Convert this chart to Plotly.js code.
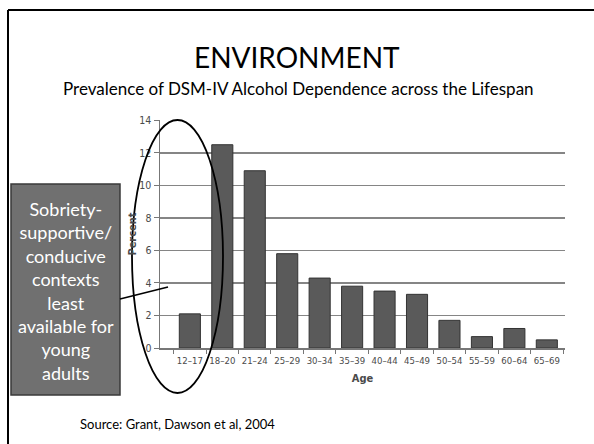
<!DOCTYPE html>
<html>
<head>
<meta charset="utf-8">
<script src="https://cdn.plot.ly/plotly-3.0.1.min.js"></script>
<style>html,body{margin:0;padding:0;background:#fff;}#chart{width:594px;height:444px;}</style>
</head>
<body>
<div id="chart"></div>
<script>
// ---- data ----
var ageGroups = ["12–17","18–20","21–24","25–29","30–34","35–39","40–44","45–49","50–54","55–59","60–64","65–69"];
var percentValues = [2.1, 12.5, 10.9, 5.8, 4.3, 3.8, 3.5, 3.3, 1.7, 0.7, 1.2, 0.5];
var yTickVals = [0, 2, 4, 6, 8, 10, 12, 14];
var titleText = "ENVIRONMENT";
var subtitleText = "Prevalence of DSM-IV Alcohol Dependence across the Lifespan";
var calloutText = "Sobriety-<br>supportive/<br>conducive<br>contexts<br>least<br>available for<br>young<br>adults";
var sourceText = "Source: Grant, Dawson et al, 2004";
var xAxisTitle = "Age";
var yAxisTitle = "Percent";

// ---- layout geometry (pixels) ----
var W = 594, H = 444;
var L = 160, R = 29, T = 120, B = 96;
var PW = W - L - R, PH = H - T - B;
function px(x){ return (x - L) / PW; }
function py(y){ return (H - B - y) / PH; }

var slideFont = "Lato, 'Open Sans', sans-serif";
var chartFont = "'Liberation Sans Narrow', 'DejaVu Sans Condensed', 'Liberation Sans', Arial, sans-serif";

var trace = {
  type: "bar",
  x: ageGroups,
  y: percentValues,
  width: 0.65,
  marker: {color: "#5a5a5a", line: {color: "#333333", width: 1}},
  hoverinfo: "x+y"
};

var layout = {
  width: W, height: H,
  margin: {l: L, r: R, t: T, b: B, pad: 0},
  paper_bgcolor: "#ffffff",
  plot_bgcolor: "#ffffff",
  showlegend: false,
  xaxis: {
    type: "category",
    range: [-0.92, 11.56],
    showline: true, linecolor: "#777777", linewidth: 1.5,
    ticks: "outside", tickson: "boundaries", ticklen: 4, tickcolor: "#777777",
    tickangle: 0, ticklabelstandoff: 3,
    showgrid: false,
    tickfont: {family: chartFont, size: 9.5, color: "#4a4a4a"},
    title: {text: "<b>" + xAxisTitle + "</b>", font: {family: chartFont, size: 11, color: "#4a4a4a"}, standoff: 9},
    fixedrange: true
  },
  yaxis: {
    range: [0, 14.02],
    tickvals: yTickVals,
    showline: true, linecolor: "#777777", linewidth: 1.5,
    ticks: "outside", ticklen: 5, tickcolor: "#777777",
    showgrid: true, gridcolor: "#858585", gridwidth: 1.6,
    zeroline: false,
    tickfont: {family: chartFont, size: 10.5, color: "#4a4a4a"},
    title: {text: "<b>" + yAxisTitle + "</b>", font: {family: chartFont, size: 11, color: "#4a4a4a"}, standoff: 0},
    fixedrange: true
  },
  shapes: [
    // slide frame
    {type: "line", xref: "paper", yref: "paper", x0: px(8), x1: px(600), y0: py(10), y1: py(10), line: {color: "#000000", width: 2}},
    {type: "line", xref: "paper", yref: "paper", x0: px(8), x1: px(8), y0: py(10), y1: py(450), line: {color: "#000000", width: 2}},
    // callout box
    {type: "rect", xref: "paper", yref: "paper", x0: px(11), x1: px(120), y0: py(395), y1: py(184),
     fillcolor: "#707070", line: {color: "#3a3a3a", width: 1.5}, layer: "above"},
    // connector line
    {type: "line", xref: "paper", yref: "paper", x0: px(120), x1: px(168), y0: py(299), y1: py(287),
     line: {color: "#000000", width: 1.5}, layer: "above"},
    // ellipse
    {type: "circle", xref: "paper", yref: "paper", x0: px(132), x1: px(223), y0: py(393), y1: py(120),
     line: {color: "#000000", width: 1.8}, fillcolor: "rgba(0,0,0,0)", layer: "above"}
  ],
  annotations: [
    {xref: "paper", yref: "paper", x: px(297), y: py(57), text: titleText, showarrow: false,
     xanchor: "center", yanchor: "middle", font: {family: slideFont, size: 28, color: "#000000"}},
    {xref: "paper", yref: "paper", x: px(298), y: py(88), text: subtitleText, showarrow: false,
     xanchor: "center", yanchor: "middle", font: {family: slideFont, size: 17, color: "#000000"}},
    {xref: "paper", yref: "paper", x: px(65.5), y: py(291), text: calloutText, showarrow: false,
     xanchor: "center", yanchor: "middle", align: "center", font: {family: slideFont, size: 18, color: "#ffffff"}},
    {xref: "paper", yref: "paper", x: px(78), y: py(424), text: sourceText, showarrow: false,
     xanchor: "left", yanchor: "middle", font: {family: slideFont, size: 13, color: "#000000"}}
  ]
};

Plotly.newPlot("chart", [trace], layout, {displayModeBar: false, staticPlot: true});
</script>
</body>
</html>
